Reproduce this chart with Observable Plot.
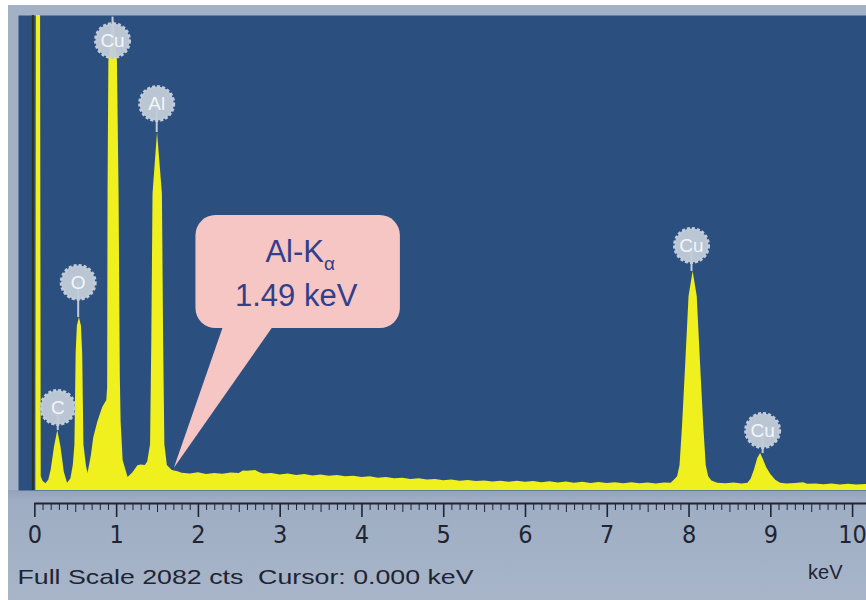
<!DOCTYPE html>
<html>
<head>
<meta charset="utf-8">
<script src="https://cdn.jsdelivr.net/npm/d3@7"></script>
<script src="https://cdn.jsdelivr.net/npm/@observablehq/plot@0.6"></script>
<style>
  html, body { margin: 0; padding: 0; background: #ffffff; }
  #chart svg {
    display: block;
    background:
      linear-gradient(to right, #ffffff 0, #ffffff 8px, transparent 8px),
      linear-gradient(to bottom, #ffffff 0, #ffffff 5px, #a3b1c6 5px, #a3b1c6 490px, #94a3bb 490px, #9eadc3 500px, #a8b5c9 100%) !important;
  }
</style>
</head>
<body>
<div id="chart"></div>
<script>
// ---- Data ----
const fullScaleCounts = 2082;
const cursorKeV = 0;

const energyKeV = [
  0.000, 0.012, 0.018, 0.070, 0.078, 0.10, 0.135, 0.17, 0.20, 0.24, 0.28, 0.32, 0.36, 0.40,
  0.44, 0.47, 0.49, 0.505, 0.52, 0.545, 0.57, 0.585, 0.60, 0.63, 0.65,
  0.69, 0.72, 0.77, 0.83, 0.88, 0.89, 0.895, 0.905, 0.96, 1.01, 1.03, 1.045, 1.055, 1.08, 1.14,
  1.20, 1.26, 1.30, 1.35, 1.38, 1.415, 1.43, 1.445, 1.50, 1.56, 1.575, 1.59, 1.62, 1.68,
  1.75, 1.80, 1.90, 2.00, 2.10, 2.20, 2.30, 2.40, 2.50, 2.55, 2.60, 2.70, 2.75, 2.80, 2.90,
  3.00, 3.10, 3.20, 3.30, 3.40, 3.50, 3.60, 3.70, 3.80, 3.90, 4.00, 4.10, 4.20, 4.30, 4.40,
  4.50, 4.60, 4.70, 4.80, 4.90, 5.00, 5.10, 5.20, 5.30, 5.40, 5.50, 5.60, 5.70, 5.80, 5.90,
  6.00, 6.10, 6.20, 6.30, 6.40, 6.50, 6.60, 6.70, 6.80, 6.90, 7.00, 7.10, 7.20, 7.30, 7.40,
  7.50, 7.60, 7.70, 7.78, 7.82, 7.86, 7.89, 7.92, 7.96, 8.00, 8.05, 8.10, 8.14, 8.18, 8.21,
  8.24, 8.28, 8.35, 8.45, 8.55, 8.65, 8.72, 8.76, 8.80, 8.84, 8.875, 8.91, 8.95, 9.00, 9.06,
  9.12, 9.20, 9.30, 9.40, 9.45, 9.55, 9.65, 9.75, 9.85, 9.95, 10.05, 10.17
];
const counts = [
  0, 0, 2082, 2082, 60, 40, 30, 45, 90, 190, 263, 190, 80, 32,
  50, 110, 200, 600, 720, 758, 720, 600, 200, 110, 75,
  150, 230, 300, 364, 395, 450, 1300, 1880, 2075, 1880, 1300, 500, 300, 130, 57,
  78, 108, 112, 110, 125, 200, 650, 1300, 1569, 1300, 650, 200, 110, 88,
  82, 76, 72, 78, 70, 74, 71, 77, 74, 86, 84, 88, 78, 72, 75,
  68, 72, 66, 70, 64, 68, 62, 66, 60, 63, 57, 60, 54, 57, 51,
  54, 48, 51, 46, 48, 43, 46, 40, 44, 39, 42, 37, 41, 36, 40,
  36, 39, 34, 38, 33, 37, 32, 36, 31, 35, 31, 34, 30, 34, 30,
  33, 29, 33, 32, 45, 60, 110, 280, 560, 850, 960, 850, 560, 280, 110,
  60, 42, 32, 30, 33, 29, 32, 50, 90, 140, 162, 135, 100, 70, 45,
  32, 28, 31, 34, 27, 29, 25, 28, 24, 27, 24, 26
];

const peakElements   = ["C", "O", "Cu", "Al", "Cu", "Cu"];
const badgeKeV       = [0.28, 0.53, 0.95, 1.49, 8.03, 8.90];
const badgeCounts    = [364, 912, 1972, 1696, 1074, 263];
const peakTopCounts  = [263, 758, 2075, 1569, 960, 162];

const axisTickKeV    = [0, 1, 2, 3, 4, 5, 6, 7, 8, 9, 10];
const axisTickLabels = ["0", "1", "2", "3", "4", "5", "6", "7", "8", "9", "10"];
const xDomainKeV     = [-0.2, 10.17];

const calloutLines       = ["Al-Kα", "1.49 keV"];
const calloutBoxKeV      = [1.97, 4.47];
const calloutBoxCounts   = [710, 1205];
const calloutTipKeV      = 1.70;
const calloutTipCounts   = 100;
const calloutTailBaseKeV = [2.33, 2.97];

const unitLabel = "keV";
const captionText = `Full Scale ${fullScaleCounts} cts\u00a0\u00a0Cursor: ${cursorKeV.toFixed(3)} keV`;

// ---- Tables built from the arrays ----
const spectrum = energyKeV.map((e, i) => ({e, c: counts[i]}));
const badges = peakElements.map((el, i) => ({el, e: badgeKeV[i], c: badgeCounts[i], top: peakTopCounts[i]}));
const minorTicks = d3.range(0, 101).map(i => i / 10).filter(v => v % 1 !== 0 && Math.abs(v % 1 - 0.5) > 1e-9);
const halfTicks = axisTickKeV.slice(0, -1).map(v => v + 0.5);
const boxMidKeV = (calloutBoxKeV[0] + calloutBoxKeV[1]) / 2;
const boxMidCounts = (calloutBoxCounts[0] + calloutBoxCounts[1]) / 2;
const tail = [
  {e: calloutTailBaseKeV[0], c: calloutBoxCounts[0] + 40},
  {e: calloutTipKeV, c: calloutTipCounts},
  {e: calloutTailBaseKeV[1], c: calloutBoxCounts[0] + 40}
];

const YELLOW = "#eff01e";
const PINK = "#f5c6c3";
const BADGE = "#c3ccda";
const INK = "#1f2433";

const chart = Plot.plot({
  width: 866,
  height: 600,
  marginLeft: 18,
  marginRight: 0,
  marginTop: 15,
  marginBottom: 110,
  style: {fontFamily: "'Liberation Sans', Arial, sans-serif", overflow: "visible"},
  x: {domain: xDomainKeV, label: null},
  y: {domain: [0, fullScaleCounts], axis: null, label: null},
  marks: [
    Plot.frame({fill: "#2b4f7f", stroke: null}),
    Plot.ruleX([cursorKeV], {stroke: "#2f321b", strokeWidth: 2, dx: -2}),
    Plot.areaY(spectrum, {x: "e", y: "c", fill: YELLOW, curve: "linear", clip: true}),
    // callout
    Plot.line(tail, {x: "e", y: "c", fill: PINK, stroke: "none"}),
    Plot.rect([0], {x1: calloutBoxKeV[0], x2: calloutBoxKeV[1], y1: calloutBoxCounts[0], y2: calloutBoxCounts[1], fill: PINK, rx: 20, ry: 20}),
    Plot.text([calloutLines[0]], {x: boxMidKeV, y: boxMidCounts, text: d => d, dy: -20, dx: 2, fontSize: 31, fill: "#343e8a"}),
    Plot.text([calloutLines[1]], {x: boxMidKeV, y: boxMidCounts, text: d => d, dy: 24, dx: -2, fontSize: 31, fill: "#343e8a"}),
    // element badges
    Plot.ruleX(badges, {x: "e", y1: "c", y2: "top", stroke: BADGE, strokeWidth: 2, clip: true}),
    Plot.dot(badges, {x: "e", y: "c", r: 17, fill: BADGE, fillOpacity: 0.95, stroke: BADGE, strokeWidth: 3, strokeDasharray: "3 2"}),
    Plot.text(badges, {x: "e", y: "c", text: "el", fill: "#f3f5f9", fontSize: 19}),
    // energy axis
    Plot.ruleY([0], {x1: 0, x2: xDomainKeV[1], dy: 13, stroke: INK, strokeWidth: 2}),
    Plot.axisX({ticks: minorTicks, tickSize: 7, dy: 13, tickFormat: () => "", color: INK, label: null}),
    Plot.axisX({ticks: halfTicks, tickSize: 9, dy: 13, tickFormat: () => "", color: INK, label: null}),
    Plot.axisX({ticks: axisTickKeV, tickSize: 14, dy: 13, tickPadding: 8, strokeWidth: 1.6,
      tickFormat: (d, i) => axisTickLabels[axisTickKeV.indexOf(d)],
      fontSize: 25, fontFamily: "'Liberation Sans Narrow', 'DejaVu Sans Condensed', Arial, sans-serif",
      color: INK, label: null}),
    // footer texts
    Plot.text([captionText], {frameAnchor: "bottom-left", text: d => d, dx: -1, dy: 87, textAnchor: "start", lineAnchor: "middle", fontSize: 21, fill: INK}),
    Plot.text([unitLabel], {frameAnchor: "bottom-right", text: d => d, dx: -24, dy: 82, textAnchor: "end", lineAnchor: "middle", fontSize: 20, fill: INK})
  ]
});

document.getElementById("chart").appendChild(chart);

// subscript alpha and caption stretch
chart.querySelectorAll("text").forEach(t => {
  if (t.textContent === calloutLines[0]) {
    t.textContent = "";
    const ns = "http://www.w3.org/2000/svg";
    const a = document.createElementNS(ns, "tspan");
    a.textContent = "Al-K";
    const b = document.createElementNS(ns, "tspan");
    b.textContent = "α";
    b.setAttribute("font-size", "19");
    b.setAttribute("dy", "8");
    t.appendChild(a); t.appendChild(b);
  } else if (t.textContent === captionText) {
    t.setAttribute("textLength", "456");
    t.setAttribute("lengthAdjust", "spacingAndGlyphs");
  }
});
</script>
</body>
</html>
